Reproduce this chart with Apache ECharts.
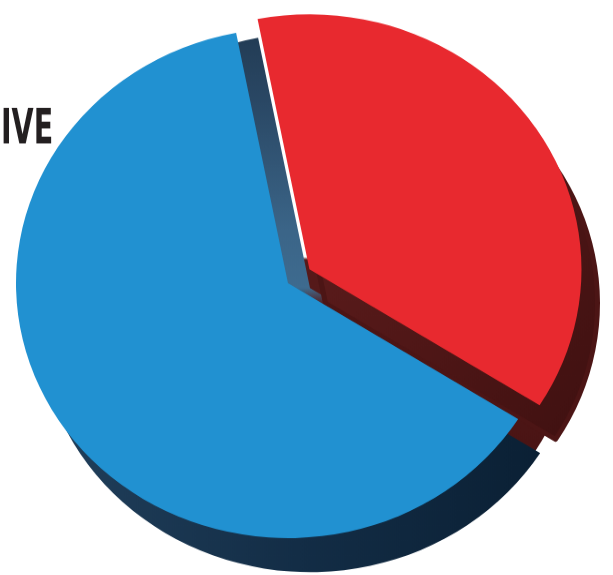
<!DOCTYPE html>
<html>
<head>
<meta charset="utf-8">
<script src="https://cdn.jsdelivr.net/npm/echarts@6/dist/echarts.min.js"></script>
<style>
html,body{margin:0;padding:0;background:#fff;overflow:hidden;}
#wrap{width:613px;height:575px;overflow:hidden;}
#chart{width:613px;height:614px;transform:scaleY(0.9375);transform-origin:0 0;}
</style>
</head>
<body>
<div id="wrap"><div id="chart"></div></div>
<script>
// Data
const categories = ['Red', 'Blue'];
const values = [37, 63];
const faceColors = ['#e8292f', '#2191d1'];
const labelText = 'IVE';

const chart = echarts.init(document.getElementById('chart'), null, {renderer: 'canvas'});
const S = 0.9375; // vertical tilt of the disc
const G = echarts.graphic.LinearGradient;
const NONE = 'rgba(0,0,0,0)';

const cx = 288, cy = 302, R = 272;

const blueDepth = new G(40, 0, 560, 0, [
  {offset: 0, color: '#21405c'},
  {offset: 0.5, color: '#132d46'},
  {offset: 1, color: '#0a1f33'}
], true);
const redDepth = new G(300, 280, 600, 470, [
  {offset: 0, color: '#5a1b1b'},
  {offset: 1, color: '#3e1010'}
], true);
const redFill = new G(0, 0, 0, 614, [
  {offset: 0, color: 'rgba(87,26,26,0)'},
  {offset: 0.47, color: 'rgba(87,26,26,0)'},
  {offset: 0.475, color: '#571a1a'},
  {offset: 1, color: '#421111'}
], true);
const blueWall = new G(0, 0, 0, 614, [
  {offset: 0, color: '#1f364d'},
  {offset: 0.18, color: '#2a4865'},
  {offset: 0.4, color: '#3b6588'},
  {offset: 0.5, color: '#3e6b8f'},
  {offset: 0.53, color: 'rgba(62,107,143,0)'},
  {offset: 1, color: 'rgba(62,107,143,0)'}
], true);

function buildData(colors, border, borderColor) {
  return categories.map((c, i) => {
    const visible = colors[i] !== NONE;
    return {
      name: c,
      value: values[i],
      selected: i === 0,
      itemStyle: {
        color: colors[i],
        borderWidth: border && visible ? border : 0,
        borderColor: border && visible ? borderColor : NONE
      }
    };
  });
}

const common = {
  type: 'pie',
  radius: R,
  startAngle: 101,
  clockwise: true,
  selectedMode: 'single',
  selectedOffset: 26,
  label: {show: false},
  labelLine: {show: false},
  emphasis: {disabled: true, scale: false},
  silent: true,
  animation: false
};

function shifted(dx, dy) { return [cx + dx, cy + dy / S]; }

chart.setOption({
  animation: false,
  graphic: [{
    type: 'text',
    x: 1,
    y: 130.5 / S,
    scaleX: 0.66,
    scaleY: 1 / S,
    style: {
      text: labelText,
      font: 'bold 48px "DejaVu Sans Condensed", "DejaVu Sans", sans-serif',
      fill: '#231f20',
      verticalAlign: 'middle'
    },
    z: 10
  }],
  series: [
    Object.assign({}, common, {
      name: 'red fill',
      center: [cx - 5, cy + 50],
      data: buildData([redFill, NONE]),
      z: 1
    }),
    Object.assign({}, common, {
      name: 'blue depth',
      center: shifted(22, 34),
      data: buildData([NONE, blueDepth]),
      z: 2
    }),
    Object.assign({}, common, {
      name: 'blue wall',
      center: shifted(22, 5),
      data: buildData([NONE, blueWall]),
      z: 3
    }),
    Object.assign({}, common, {
      name: 'red depth',
      center: shifted(16, 34),
      data: buildData([redDepth, NONE], 5, '#4c1515'),
      z: 4
    }),
    Object.assign({}, common, {
      name: 'face',
      center: [cx, cy],
      data: buildData(faceColors),
      z: 5
    })
  ]
});
</script>
</body>
</html>
